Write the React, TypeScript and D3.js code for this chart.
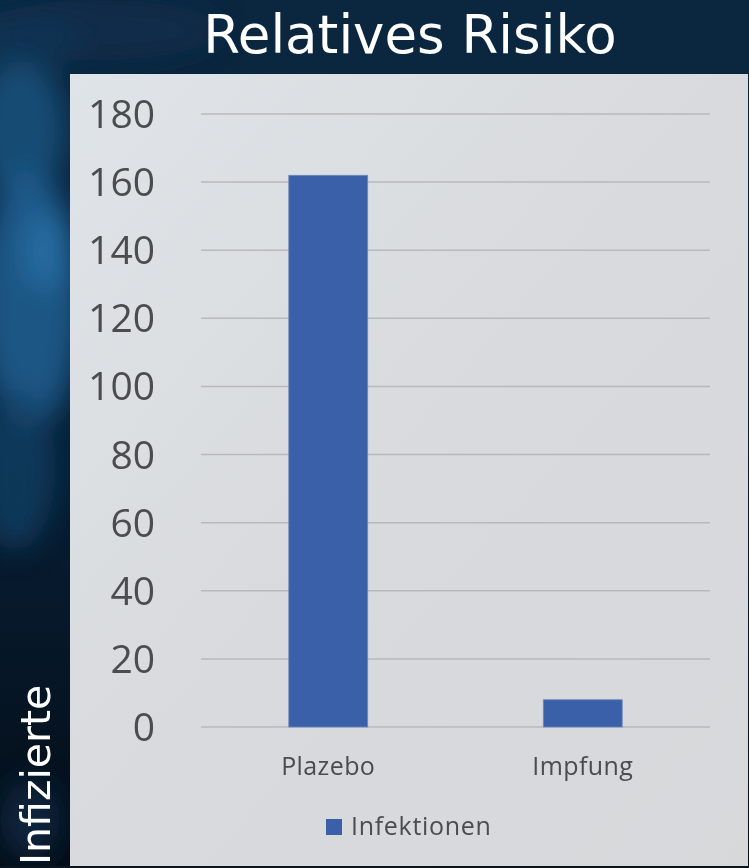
import React from "react";
import * as d3 from "d3";

// Chart data
const categories = ["Plazebo", "Impfung"];
const infektionen = [162, 8];
const yTicks = [0, 20, 40, 60, 80, 100, 120, 140, 160, 180];
const seriesName = "Infektionen";
const title = "Relatives Risiko";
const yLabel = "Infizierte";

const W = 749;
const H = 868;

export default function App() {
  const panel = { x: 70, y: 74, w: 678, h: 792 };
  const plot = { left: 201, right: 710, top: 114, bottom: 727 };

  const y = d3.scaleLinear().domain([0, 180]).range([plot.bottom, plot.top]);
  const x = d3
    .scaleBand<string>()
    .domain(categories)
    .range([plot.left, plot.right])
    .paddingInner(0.69)
    .paddingOuter(0.345);

  const barColor = "#3960a9";
  const textGray = "#4a4c4f";
  const sans = "'Open Sans', 'Noto Sans', sans-serif";

  return (
    <svg
      width={W}
      height={H}
      viewBox={`0 0 ${W} ${H}`}
      style={{ position: "absolute", left: 0, top: 0, display: "block" }}
    >
      <defs>
        <linearGradient id="bgGrad" x1="0" y1="0" x2="0" y2="1">
          <stop offset="0" stopColor="#0b2740" />
          <stop offset="0.45" stopColor="#08213a" />
          <stop offset="1" stopColor="#040e18" />
        </linearGradient>
        <filter id="soft" x="-50%" y="-50%" width="200%" height="200%">
          <feGaussianBlur stdDeviation="14" />
        </filter>
        <linearGradient id="panelGrad" x1="0" y1="0" x2="1" y2="1">
          <stop offset="0" stopColor="#dfe4e8" />
          <stop offset="0.5" stopColor="#d8dadd" />
          <stop offset="1" stopColor="#d6d8da" />
        </linearGradient>
      </defs>

      {/* dark backdrop with soft blue glow on the left */}
      <rect x={0} y={0} width={W} height={H} fill="url(#bgGrad)" />
      <g filter="url(#soft)">
        <ellipse cx={20} cy={130} rx={45} ry={70} fill="#1d5583" opacity={0.8} />
        <ellipse cx={30} cy={300} rx={50} ry={130} fill="#1f5f92" opacity={0.85} />
        <ellipse cx={45} cy={250} rx={22} ry={40} fill="#2a76ad" opacity={0.7} />
        <ellipse cx={15} cy={470} rx={40} ry={80} fill="#143f63" opacity={0.8} />
        <ellipse cx={25} cy={40} rx={60} ry={30} fill="#123a5c" opacity={0.6} />
        <ellipse cx={100} cy={30} rx={120} ry={30} fill="#0f3453" opacity={0.5} />
        <ellipse cx={30} cy={820} rx={30} ry={40} fill="#0f3456" opacity={0.6} />
      </g>

      {/* title */}
      <text
        x={410}
        y={53}
        textAnchor="middle"
        fill="#ffffff"
        fontFamily="'DejaVu Sans', sans-serif"
        fontSize={53}
      >
        {title}
      </text>

      {/* chart panel */}
      <rect x={panel.x} y={panel.y} width={panel.w} height={panel.h} fill="url(#panelGrad)" />

      {/* gridlines and tick labels */}
      {yTicks.map((t) => (
        <g key={t}>
          <line
            x1={plot.left}
            x2={plot.right}
            y1={y(t)}
            y2={y(t)}
            stroke="#b7b9bc"
            strokeWidth={1.5}
          />
          <text
            x={155}
            y={y(t)}
            dy="0.36em"
            textAnchor="end"
            fill={textGray}
            fontFamily={sans}
            fontSize={39}
          >
            {t}
          </text>
        </g>
      ))}

      {/* bars */}
      {categories.map((c, i) => (
        <rect
          key={c}
          x={x(c)}
          y={y(infektionen[i])}
          width={x.bandwidth()}
          height={y(0) - y(infektionen[i])}
          fill={barColor}
          stroke="#6d88bb"
          strokeWidth={0.8}
        />
      ))}

      {/* category labels */}
      {categories.map((c) => (
        <text
          key={c}
          x={(x(c) ?? 0) + x.bandwidth() / 2}
          y={775}
          textAnchor="middle"
          fill={textGray}
          fontFamily={sans}
          fontSize={25}
          letterSpacing={0.4}
        >
          {c}
        </text>
      ))}

      {/* legend */}
      <rect x={326} y={819} width={16} height={16} fill={barColor} />
      <text
        x={351}
        y={835}
        fill={textGray}
        fontFamily={sans}
        fontSize={25}
        letterSpacing={0.7}
      >
        {seriesName}
      </text>

      {/* y-axis title */}
      <text
        transform="translate(50, 865) rotate(-90)"
        fill="#ffffff"
        fontFamily="'DejaVu Sans', sans-serif"
        fontSize={41}
      >
        {yLabel}
      </text>

      {/* bottom edge */}
      <rect x={0} y={866} width={W} height={2} fill="#0a1520" />
    </svg>
  );
}
